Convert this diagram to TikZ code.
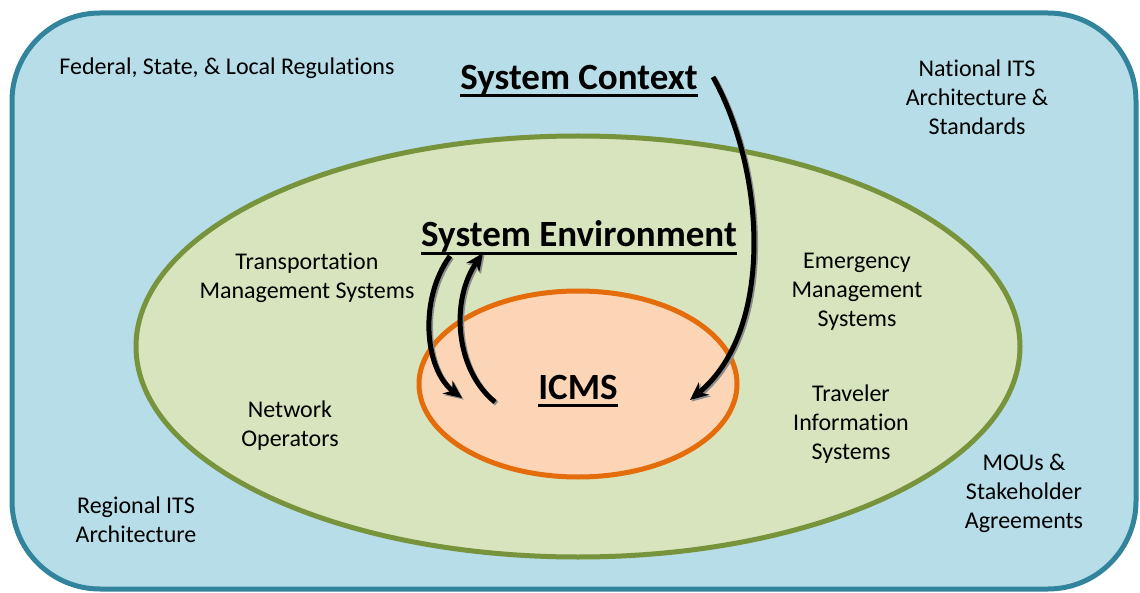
\documentclass[tikz,border=0pt]{standalone}
\usepackage{fontspec}
\setmainfont{Carlito}[Ligatures=NoCommon]
\usetikzlibrary{arrows.meta}

\definecolor{ctxfill}{HTML}{B7DDE8}
\definecolor{ctxline}{HTML}{31849B}
\definecolor{envfill}{HTML}{D7E4BD}
\definecolor{envline}{HTML}{77933C}
\definecolor{icmsfill}{HTML}{FBD5B5}
\definecolor{icmsline}{HTML}{E46C0A}

\newcommand{\thickul}[1]{\setbox0\hbox{#1}\rlap{\rule[-4pt]{\wd0}{1.5pt}}\box0}

\begin{document}
\begin{tikzpicture}[x=0.5pt, y=-0.5pt,
        lbl/.style={align=center, font=\fontsize{12}{14.5}\selectfont},
        ttl/.style={font=\fontsize{18.5}{20}\selectfont\bfseries},
        flow/.style={line width=2.5pt, -{Stealth[length=9pt, width=8pt]},
            preaction={draw=black!45, line width=2.5pt, transform canvas={xshift=0.8pt, yshift=-0.8pt}}}]
        \useasboundingbox (0, 0) rectangle (1140, 593);

        % regions
        \draw[line width=2.5pt, draw=ctxline, fill=ctxfill, rounded corners=44pt] (12, 13) rectangle (1136, 589);
        \draw[line width=2.5pt, draw=envline, fill=envfill] (578, 346.5) ellipse (442 and 210.5);
        \draw[line width=2.5pt, draw=icmsline, fill=icmsfill] (578, 384) ellipse (159 and 93);

        % titles
        \node[ttl] (ctx) at (579, 81) {\thickul{System Context}};
        \node[ttl] (env) at (579, 238) {\thickul{System Environment}};
        \node[ttl] (icms) at (578, 391) {\thickul{ICMS}};

        % outer labels
        \node[lbl] (regs) at (227, 68) {Federal, State, \& Local Regulations};
        \node[lbl] (natits) at (977, 97) {National ITS\\Architecture \&\\Standards};
        \node[lbl] (regits) at (136, 520) {Regional ITS\\Architecture};
        \node[lbl] (mous) at (1024, 493) {MOUs \&\\Stakeholder\\Agreements};

        % environment labels
        \node[lbl] (tms) at (307, 278) {Transportation\\Management Systems};
        \node[lbl] (ems) at (857, 292) {Emergency\\Management\\Systems};
        \node[lbl] (netops) at (290, 426) {Network\\Operators};
        \node[lbl] (tis) at (851, 424) {Traveler\\Information\\Systems};

        % arrow ends
        \coordinate (ctxout) at (713, 77);
        \coordinate (icmsin) at (690, 400);
        \coordinate (envout) at (450, 256);
        \coordinate (icmsleft) at (462, 398);
        \coordinate (icmsout) at (495, 402);
        \coordinate (envin) at (483, 253);

        \draw[flow] (ctxout) .. controls (765, 170) and (775, 330) .. (icmsin);
        \draw[flow] (envout) .. controls (418, 300) and (425, 370) .. (icmsleft);
        \draw[flow] (icmsout) .. controls (455, 370) and (450, 300) .. (envin);
    \end{tikzpicture}
\end{document}
